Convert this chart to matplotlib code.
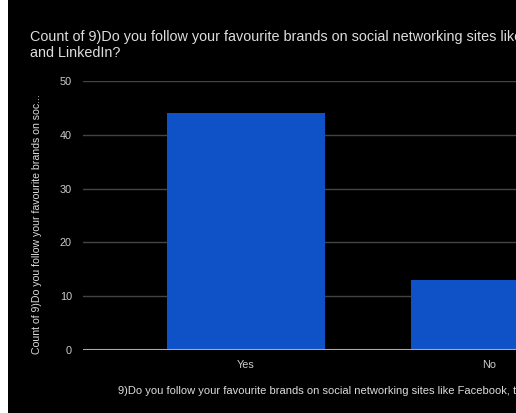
import matplotlib
matplotlib.use('Agg')
import matplotlib.pyplot as plt
import numpy as np

categories = ['Yes', 'No']
counts = [44, 13]
y_ticks = [0, 10, 20, 30, 40, 50]

title = ("Count of 9)Do you follow your favourite brands on social networking sites like Facebook, Twitter\n"
         "and LinkedIn?")
x_label = "9)Do you follow your favourite brands on social networking sites like Facebook, twitter and LinkedIn?"
y_label = "Count of 9)Do you follow your favourite brands on soc..."

plt.rcParams['font.family'] = ['Liberation Sans', 'DejaVu Sans']

W, H = 516, 413
fig = plt.figure(figsize=(W / 100, H / 100), dpi=100, facecolor='black')
# white strip down the left edge
fig.patches.append(plt.Rectangle((0, 0), 8 / W, 1, transform=fig.transFigure,
                                 facecolor='white', edgecolor='none', zorder=-1))

left, right = 83 / W, 1.0
bottom, top = 1 - 350 / H, 1 - 81 / H
ax = fig.add_axes([left, bottom, right - left, top - bottom])
ax.set_facecolor('black')

x = np.arange(len(categories))
ax.bar(x, counts, width=0.646, color='#0f52c8', zorder=3)

ax.set_xlim(-0.67, 1.11)
ax.set_ylim(0, 50)
ax.set_yticks(y_ticks)
ax.set_yticklabels([str(t) for t in y_ticks])
ax.set_xticks(x)
ax.set_xticklabels(categories)

ax.grid(axis='y', color='#444444', linewidth=1, zorder=0)
ax.axhline(0, color='#aaaaaa', linewidth=1.5, zorder=4)
for s in ax.spines.values():
    s.set_visible(False)
ax.tick_params(axis='both', length=0, colors='#cccccc', labelsize=7.8)
ax.tick_params(axis='y', pad=8)
ax.tick_params(axis='x', pad=7)

fig.text(30 / W, 1 - 30 / H, title, color='#dddddd', fontsize=10.4,
         ha='left', va='top', linespacing=1.15)
fig.text(367 / W, 1 - 391 / H, x_label, color='#dddddd', fontsize=8,
         ha='center', va='center')
fig.text(37 / W, 1 - 224 / H, y_label, color='#dddddd', fontsize=7.6,
         ha='center', va='center', rotation=90)

plt.savefig('out.png', dpi=100, facecolor='black')
